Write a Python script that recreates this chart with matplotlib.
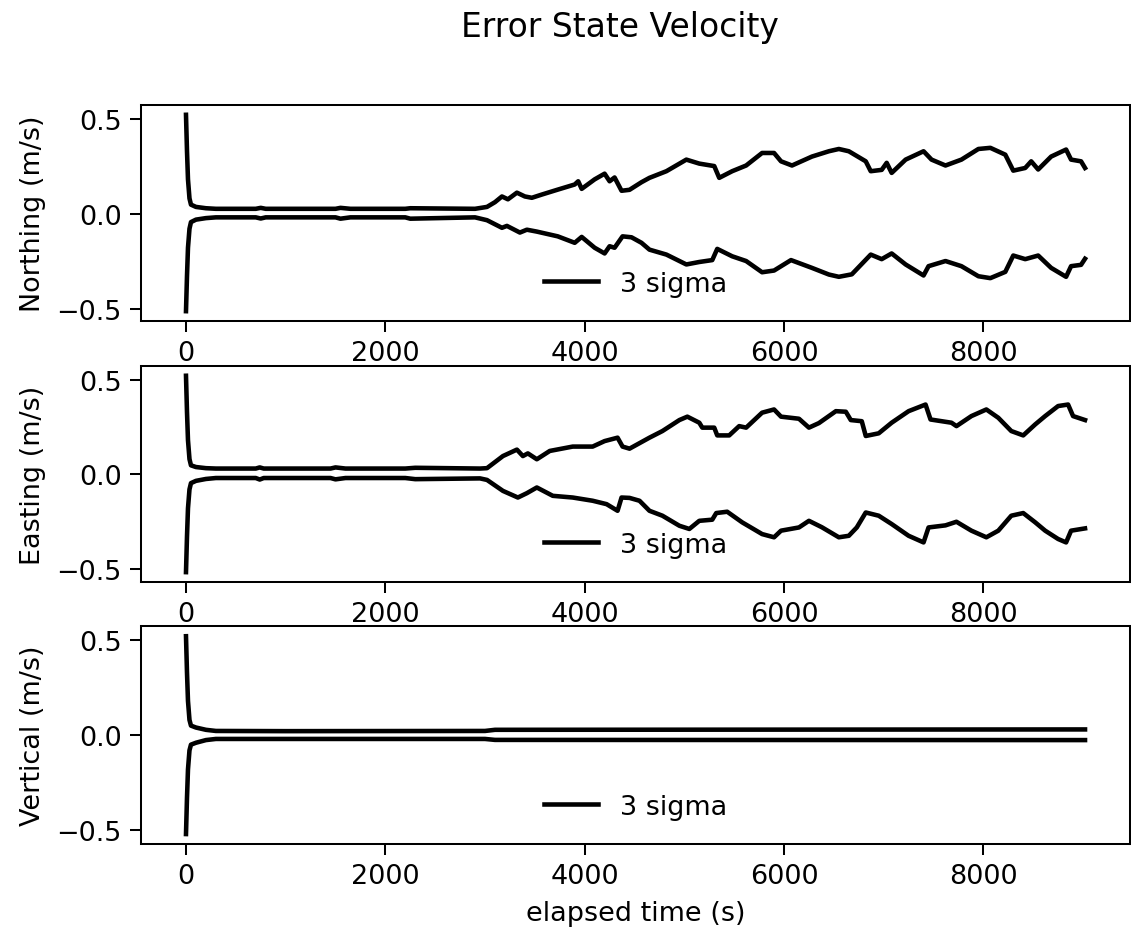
import matplotlib
matplotlib.use('Agg')
import matplotlib.pyplot as plt

# 3 sigma bounds: (elapsed time s, m/s)
north_upper = [(0, 0.52), (10, 0.33), (20, 0.18), (35, 0.08), (50, 0.047), (100, 0.035),
               (200, 0.028), (300, 0.025), (700, 0.025), (750, 0.03), (800, 0.025),
               (1500, 0.025), (1550, 0.03), (1650, 0.025), (2200, 0.025), (2250, 0.028),
               (2900, 0.025), (3020, 0.035), (3100, 0.06), (3170, 0.09), (3230, 0.075),
               (3320, 0.11), (3400, 0.09), (3470, 0.083), (3570, 0.10), (3730, 0.126),
               (3900, 0.153), (3935, 0.17), (3970, 0.13), (4100, 0.18), (4200, 0.21),
               (4250, 0.17), (4300, 0.19), (4370, 0.12), (4450, 0.125), (4570, 0.165),
               (4650, 0.188), (4820, 0.223), (5020, 0.284), (5150, 0.263), (5300, 0.25),
               (5350, 0.188), (5480, 0.223), (5620, 0.253), (5780, 0.319), (5900, 0.319),
               (5970, 0.275), (6080, 0.253), (6280, 0.30), (6450, 0.328), (6550, 0.34),
               (6650, 0.328), (6820, 0.275), (6870, 0.223), (6980, 0.23), (7030, 0.267),
               (7080, 0.214), (7220, 0.284), (7400, 0.328), (7480, 0.284), (7620, 0.253),
               (7780, 0.284), (7950, 0.34), (8070, 0.346), (8220, 0.31), (8300, 0.226),
               (8420, 0.24), (8480, 0.275), (8550, 0.232), (8680, 0.30), (8830, 0.337),
               (8880, 0.284), (8980, 0.275), (9020, 0.24)]
north_lower = [(0, -0.514), (10, -0.33), (20, -0.18), (35, -0.08), (50, -0.045), (100, -0.032),
               (200, -0.024), (300, -0.02), (700, -0.02), (750, -0.026), (800, -0.02),
               (1500, -0.02), (1550, -0.027), (1650, -0.02), (2200, -0.02), (2250, -0.027),
               (2900, -0.02), (3020, -0.035), (3170, -0.075), (3220, -0.065), (3350, -0.10),
               (3420, -0.085), (3520, -0.095), (3730, -0.12), (3900, -0.154), (3970, -0.123),
               (4100, -0.18), (4200, -0.21), (4250, -0.172), (4300, -0.18), (4380, -0.12),
               (4470, -0.125), (4570, -0.154), (4650, -0.19), (4820, -0.216), (5020, -0.268),
               (5150, -0.255), (5280, -0.245), (5330, -0.186), (5480, -0.225), (5620, -0.25),
               (5780, -0.309), (5900, -0.30), (6070, -0.245), (6280, -0.286), (6450, -0.321),
               (6550, -0.333), (6680, -0.32), (6870, -0.216), (6980, -0.24), (7080, -0.21),
               (7220, -0.268), (7400, -0.326), (7450, -0.277), (7620, -0.25), (7780, -0.277),
               (7950, -0.33), (8070, -0.34), (8220, -0.307), (8300, -0.221), (8420, -0.24),
               (8550, -0.221), (8680, -0.286), (8830, -0.333), (8880, -0.277), (8980, -0.27),
               (9020, -0.238)]
east_upper = [(0, 0.52), (10, 0.33), (20, 0.18), (35, 0.08), (50, 0.047), (100, 0.038),
              (200, 0.032), (300, 0.03), (700, 0.03), (740, 0.036), (780, 0.03), (1450, 0.03),
              (1500, 0.036), (1600, 0.03), (2200, 0.03), (2300, 0.034), (2950, 0.03),
              (3020, 0.032), (3180, 0.096), (3320, 0.13), (3380, 0.096), (3430, 0.11),
              (3520, 0.079), (3650, 0.123), (3880, 0.146), (4080, 0.146), (4200, 0.175),
              (4330, 0.193), (4380, 0.146), (4450, 0.135), (4650, 0.193), (4780, 0.228),
              (4950, 0.286), (5030, 0.304), (5150, 0.272), (5180, 0.246), (5300, 0.246),
              (5330, 0.205), (5450, 0.205), (5550, 0.254), (5620, 0.246), (5780, 0.325),
              (5900, 0.342), (5970, 0.304), (6150, 0.293), (6250, 0.246), (6350, 0.27),
              (6520, 0.333), (6620, 0.33), (6670, 0.286), (6780, 0.28), (6820, 0.202),
              (6950, 0.216), (7080, 0.272), (7250, 0.333), (7420, 0.368), (7470, 0.289),
              (7680, 0.272), (7730, 0.254), (7880, 0.307), (8030, 0.342), (8150, 0.298),
              (8280, 0.228), (8400, 0.205), (8520, 0.263), (8620, 0.307), (8750, 0.36),
              (8850, 0.368), (8900, 0.307), (9020, 0.286)]
east_lower = [(0, -0.517), (10, -0.33), (20, -0.18), (35, -0.08), (50, -0.047), (100, -0.035),
              (200, -0.025), (300, -0.02), (700, -0.02), (740, -0.028), (780, -0.02),
              (1450, -0.02), (1500, -0.027), (1600, -0.02), (2200, -0.02), (2300, -0.026),
              (2950, -0.022), (3020, -0.03), (3180, -0.088), (3330, -0.123), (3420, -0.1),
              (3520, -0.07), (3680, -0.114), (3880, -0.123), (4080, -0.14), (4220, -0.158),
              (4330, -0.193), (4370, -0.123), (4450, -0.125), (4550, -0.14), (4650, -0.193),
              (4780, -0.219), (4950, -0.272), (5050, -0.289), (5150, -0.246), (5280, -0.24),
              (5320, -0.205), (5430, -0.198), (5580, -0.254), (5780, -0.316), (5900, -0.333),
              (5970, -0.298), (6150, -0.281), (6250, -0.246), (6380, -0.28), (6550, -0.333),
              (6650, -0.325), (6730, -0.281), (6820, -0.202), (6950, -0.219), (7080, -0.263),
              (7250, -0.325), (7400, -0.36), (7450, -0.281), (7620, -0.27), (7730, -0.251),
              (7880, -0.298), (8030, -0.333), (8150, -0.298), (8280, -0.219), (8400, -0.205),
              (8520, -0.254), (8620, -0.298), (8750, -0.342), (8830, -0.36), (8880, -0.298),
              (9020, -0.286)]
vert_upper = [(0, 0.52), (10, 0.33), (20, 0.18), (35, 0.08), (50, 0.05), (100, 0.04),
              (200, 0.028), (300, 0.022), (1000, 0.021), (3000, 0.022), (3100, 0.028),
              (9020, 0.03)]
vert_lower = [(0, -0.52), (10, -0.33), (20, -0.18), (35, -0.08), (50, -0.05), (100, -0.04),
              (200, -0.026), (300, -0.02), (3000, -0.02), (3100, -0.025), (9020, -0.026)]

panels = [('Northing (m/s)', north_upper, north_lower),
          ('Easting (m/s)', east_upper, east_lower),
          ('Vertical (m/s)', vert_upper, vert_lower)]

fig = plt.figure(figsize=(1131 / 182, 932 / 182), dpi=182)
# axes placed to match the reference layout
boxes = [[0.1247, 0.6545, 0.8744, 0.2318],
         [0.1247, 0.3745, 0.8744, 0.2318],
         [0.1247, 0.0934, 0.8744, 0.2335]]

for box, (name, upper, lower) in zip(boxes, panels):
    ax = fig.add_axes(box)
    tu, vu = zip(*upper)
    tl, vl = zip(*lower)
    ax.plot(tu, vu, 'k', lw=1.8, label='3 sigma')
    ax.plot(tl, vl, 'k', lw=1.8)
    ax.set_ylabel(name, fontsize=10.7)
    ax.tick_params(labelsize=10.7, length=4.2)
    ax.legend(loc='lower center', frameon=False, fontsize=10.7)

ax.set_xlabel('elapsed time (s)', fontsize=10.7)
fig.suptitle('Error State Velocity', fontsize=13, x=0.548, y=1 - 27 / 932, va='center')

plt.savefig('out.png', dpi=182)
